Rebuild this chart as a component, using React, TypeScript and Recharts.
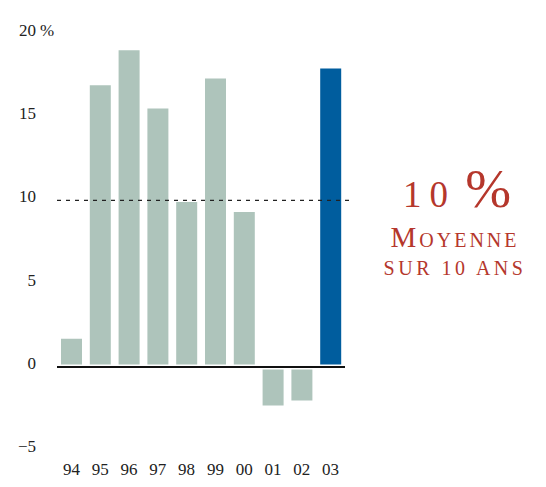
import { Bar, BarChart, Cell, ReferenceLine, XAxis, YAxis } from "recharts";

const years = ["94", "95", "96", "97", "98", "99", "00", "01", "02", "03"];
const returns = [1.7, 16.9, 19.0, 15.5, 9.9, 17.3, 9.3, -2.3, -2.0, 17.9];
const yTicks = [-5, 0, 5, 10, 15, 20];
const average = 10;
const highlightYear = "03";

const FONT = '"Liberation Serif", "DejaVu Serif", serif';
const RED = "#b5372c";

const rows = years.map((year, i) => ({ year, value: returns[i] }));

function YTick(props: any) {
  const { x, y, payload } = props;
  const v = payload.value as number;
  const label = v < 0 ? `\u2212${Math.abs(v)}` : String(v);
  return (
    <g>
      <text x={x} y={y + 2} textAnchor="end" fontFamily={FONT} fontSize={17} fill="#222">
        {label}
      </text>
      {v === 20 && (
        <text x={x + 4} y={y + 2} textAnchor="start" fontFamily={FONT} fontSize={17} fill="#222">
          %
        </text>
      )}
    </g>
  );
}

function XTick(props: any) {
  const { x, y, payload } = props;
  return (
    <text x={x} y={y + 25} textAnchor="middle" fontFamily={FONT} fontSize={17} fill="#222">
      {payload.value}
    </text>
  );
}

export default function App() {
  return (
    <div style={{ position: "absolute", left: 0, top: 0, width: 546, height: 487, background: "#fff" }}>
      <BarChart
        width={546}
        height={487}
        data={rows}
        margin={{ top: 33.6, right: 201, bottom: 0, left: 0 }}
      >
        <XAxis
          dataKey="year"
          axisLine={false}
          tickLine={false}
          height={36.6}
          tickSize={0}
          tickMargin={0}
          interval={0}
          tick={<XTick />}
        />
        <YAxis
          domain={[-5, 20]}
          ticks={yTicks}
          width={57}
          axisLine={false}
          tickLine={false}
          tickSize={0}
          tickMargin={21}
          allowDataOverflow
          tick={<YTick />}
        />
        <Bar dataKey="value" barSize={21} isAnimationActive={false}>
          {rows.map((r) => (
            <Cell key={r.year} fill={r.year === highlightYear ? "#005d9e" : "#aec4bb"} />
          ))}
        </Bar>
        <ReferenceLine y={0} stroke="#fff" strokeWidth={5} />
        <ReferenceLine y={0} stroke="#111" strokeWidth={2} />
        <ReferenceLine
          y={average}
          shape={(p: any) => (
            <line
              x1={p.x1}
              y1={p.y1}
              x2={p.x2 + 5}
              y2={p.y2}
              stroke="#222"
              strokeWidth={1.3}
              strokeDasharray="4 5"
            />
          )}
        />
      </BarChart>
      <svg
        width={546}
        height={487}
        style={{ position: "absolute", left: 0, top: 0, pointerEvents: "none" }}
      >
        <text x={457} y={207} textAnchor="middle" fontFamily={FONT} fill={RED}>
          <tspan fontSize={37} letterSpacing={8}>10</tspan>
          <tspan fontSize={37}> </tspan>
          <tspan fontSize={55}>%</tspan>
        </text>
        <text
          x={455}
          y={247}
          textAnchor="middle"
          fontFamily={FONT}
          fontSize={29}
          letterSpacing={3}
          fill={RED}
          style={{ fontVariant: "small-caps" }}
        >
          Moyenne
        </text>
        <text
          x={455}
          y={275}
          textAnchor="middle"
          fontFamily={FONT}
          fontSize={20}
          letterSpacing={3.5}
          fill={RED}
          style={{ textTransform: "uppercase" }}
        >
          sur 10 ans
        </text>
      </svg>
    </div>
  );
}
